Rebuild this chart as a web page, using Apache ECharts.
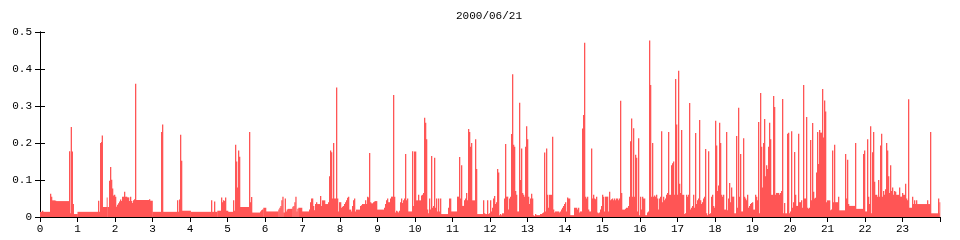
<!DOCTYPE html>
<html><head><meta charset="utf-8">
<script src="https://cdn.jsdelivr.net/npm/echarts@6/dist/echarts.min.js"></script>
<style>html,body{margin:0;padding:0;background:#fff}#c{width:960px;height:240px}</style>
</head><body><div id="c"></div>
<script>
const chartTitle = '2000/06/21';
const yTicks = [0, 0.1, 0.2, 0.3, 0.4, 0.5];
// sample start times (minutes after midnight) and values held until the next sample
const minutes = [
0,3.2,4.8,16,17.6,19.2,24,25.6,46.4,48,49.1,50.7,52.3,53.9,60,92.8,94.4,96,97.6,98.7,100.3,106.7,107.7,110.4,112,113.6,115.2,116.8,118.4,120,121.6,123.2,124.8,126.4,128,129.6,131.2,132.8,134.4,136,137.6,139.2,142.4,144,145.6,147.2,148.8,150.4,152,153.6,174.4,176,180,193.6,195.2,196.8,219.2,220.8,222.4,224,225.6,227.2,241,273.6,275.2,278.4,280,283.7,289.6,291.2,292.8,294.4,296,297.6,300.8,308.8,310.4,312,313.6,315.2,316.8,318.4,
320,334.4,336,337.6,339.2,352,353.6,355.2,357.3,361.6,381.3,382.9,384.5,386.1,387.7,389.3,391.5,393.1,394.7,396.3,402.7,403.7,405.3,406.9,408.5,410.1,411.7,413.3,419.2,430.4,432,433.6,435.2,436.8,438.4,440,441.6,443.2,448,449.6,451.2,456,460.8,462.4,464,465.6,467.2,468.8,470.4,473.6,475.2,476.8,478.4,481.6,483.2,484.8,486.4,488,489.6,491.2,492.8,494.4,497.6,499.2,500.8,502.4,504,505.6,512,513.6,515.2,520,521.6,523.2,524.8,526.4,528,529.6,532.8,534.4,536,539.2,550.4,552,553.6,555.2,556.8,560,561.6,564.8,566.4,568,569.6,571.2,572.8,574.4,576,577.6,579.2,580.8,582.4,584,585.6,587.2,588.8,595.2,596.8,598.4,601.6,604.8,606.4,609.6,611.2,612.8,614.4,616,617.6,619.2,620.8,622.4,624,625.6,627.2,628.8,630.4,632,633.6,635.2,636.8,638.4,640,641.6,652.8,654.4,657.6,667.2,670.4,672,673.6,675.2,678.4,680,681.6,683.2,684.8,686.4,688,689.6,691.2,696,697.6,699.2,
708.8,710.4,712,715.2,716.8,718.4,720,721.6,723.2,724.8,726.4,728,729.6,731.2,732.8,734.4,736,737.6,739.2,742.4,744,745.6,748.8,750.4,752,753.6,755.2,756.8,758.4,760,761.6,763.2,766.4,768,769.6,771.2,772.8,774.4,776,777.6,779.2,780.8,782.4,784,785.6,787.2,788.8,790.4,792,793.6,800,803.2,804.8,806.4,808,809.6,811.2,812.8,814.4,819.2,820.8,822.4,824,830.4,832,833.6,835.2,836.8,838.4,840,841.6,843.2,844.8,848,854.4,859.2,860.8,862.4,864,867.2,868.8,870.4,872,873.6,875.2,876.8,878.4,881.6,883.2,884.8,886.4,888,889.6,891.2,892.8,894.4,896,897.6,899.2,900.8,902.4,904,908.8,910.4,912,913.6,915.2,916.8,918.4,920,921.6,924.8,926.4,928,929.6,931.2,936,937.6,940.8,942.4,944,945.6,947.2,948.8,950.4,952,953.6,955.2,956.8,958.4,960,961.6,963.2,964.8,968,971.2,972.8,974.4,976,977.6,979.2,980.8,982.4,984,985.6,987.2,988.8,990.4,992,993.6,995.2,996.8,998.4,1000,1001.6,1003.2,1004.8,1006.4,1009.6,1011.2,1012.8,1014.4,1016,1017.6,1019.2,1020.8,1022.4,1024,1025.6,1027.2,1030.4,1032,1033.6,1035.2,1036.8,1038.4,1040,1041.6,1043.2,1044.8,1046.4,1048,1049.6,1051.2,1052.8,1054.4,1056,1057.6,1059.2,1060.8,1062.4,1064,1065.6,1067.2,1068.8,1070.4,1072,1073.6,1075.2,1076.8,1078.4,1080,1081.6,1083.2,1084.8,1086.4,
1088,1089.6,1091.2,1092.8,1094.4,1097.6,1099.2,1100.8,1102.4,1104,1105.6,1107.2,1110.4,1113.6,1115.2,1116.8,1118.4,1120,1121.6,1124.8,1126.4,1128,1129.6,1131.2,1132.8,1134.4,1136,1137.6,1139.2,1140.8,1144,1145.6,1147.2,1148.8,1150.4,1152,1153.6,1155.2,1156.8,1158.4,1160,1161.6,1163.2,1164.8,1166.4,1168,1169.6,1172.8,1174.4,1176,1177.6,1182.4,1184,1185.6,1187.2,1188.8,1190.4,1192,1195.2,1196.8,1198.4,1200,1201.6,1203.2,1204.8,1206.4,1208,1209.6,1212.8,1214.4,1217.6,1219.2,1220.8,1222.4,1225.6,1227.2,1228.8,1230.4,1232,1233.6,1235.2,1236.8,1238.4,1240,1241.6,1243.2,1244.8,1246.4,1248,1251.2,1252.8,1254.4,1256,1257.6,1259.2,1264,1265.6,1267.2,1268.8,1270.4,1272,1276.8,1278.4,1288,1289.6,1291.2,1292.8,1294.4,1304,1305.6,1316.8,1318.4,1320,1323.2,1324.8,1326.4,1328,1329.6,1331.2,1332.8,1334.4,1336,1339.2,1340.8,1342.4,1344,1345.6,1347.2,1348.8,1350.4,1352,1353.6,1355.2,1356.8,1358.4,1360,1361.6,1363.2,1364.8,1366.4,1368,1369.6,1374.4,1376,1379.2,1380.8,1384,1385.6,1387.2,1388.8,1390.4,1395.2,1396.8,1398.4,1400,1401.6,1403.2,1419.2,1420.8,1424,1425.6,1436.8,1438.4,1439,1440
];
const load = [
0.014,0.017,0.014,0.063,0.055,0.045,0.044,0.043,0.178,0.01,0.243,0.177,0.035,0.008,0.014,0.044,0.014,0.2,0.203,0.22,0.027,0.053,0.027,0.098,0.135,0.101,0.077,0.058,0.06,0.055,0.028,0.033,0.037,0.042,0.047,0.043,0.055,0.055,0.068,0.055,0.055,0.053,0.043,0.055,0.043,0.038,0.045,0.048,0.36,0.046,0.048,0.044,0.014,0.23,0.25,0.014,0.045,0.014,0.047,0.222,0.152,0.017,0.014,0.045,0.014,0.042,0.014,0.017,0.053,0.04,0.045,0.043,0.053,0.017,0.014,0.045,0.017,0.195,0.15,0.08,0.18,0.163,
0.027,0.23,0.04,0.054,0.012,0.015,0.018,0.02,0.025,0.015,0.02,0.025,0.03,0.045,0.055,0.012,0.05,0.015,0.02,0.022,0.022,0.028,0.03,0.04,0.055,0.015,0.022,0.025,0.015,0.02,0.04,0.05,0.05,0.03,0.018,0.035,0.04,0.035,0.057,0.03,0.045,0.035,0.04,0.11,0.18,0.175,0.05,0.2,0.05,0.35,0.05,0.015,0.04,0.025,0.028,0.03,0.035,0.04,0.045,0.052,0.055,0.02,0.015,0.03,0.045,0.05,0.015,0.02,0.03,0.032,0.035,0.045,0.035,0.055,0.053,0.173,0.04,0.037,0.04,0.042,0.043,0.02,0.025,0.035,0.045,0.05,0.04,0.05,0.055,0.33,0.055,0.012,0.017,0.015,0.012,0.017,0.04,0.05,0.038,0.045,0.05,0.17,0.045,0.05,0.015,0.178,0.03,0.177,0.045,0.06,0.045,0.058,0.06,0.065,0.268,0.255,0.21,0.02,0.01,0.05,0.02,0.165,0.025,0.03,0.16,0.025,0.05,0.015,0.05,0.015,0.05,0.008,0.025,0.05,0.015,0.055,0.162,0.05,0.14,0.03,0.045,0.05,0.065,0.045,0.238,0.23,0.19,0.2,0.045,0.21,0.13,0.008,
0.045,0.01,0.008,0.045,0.008,0.01,0.045,0.015,0.025,0.05,0.057,0.035,0.04,0.13,0.12,0.005,0.008,0.005,0.01,0.05,0.197,0.055,0.02,0.05,0.055,0.224,0.386,0.195,0.19,0.07,0.06,0.015,0.309,0.1,0.185,0.065,0.06,0.055,0.19,0.245,0.21,0.055,0.035,0.05,0.063,0.05,0.005,0.003,0.008,0.005,0.008,0.01,0.012,0.174,0.015,0.185,0.06,0.025,0.06,0.217,0.02,0.012,0.015,0.012,0.015,0.02,0.025,0.03,0.035,0.04,0.015,0.053,0.05,0.005,0.025,0.02,0.025,0.012,0.015,0.239,0.276,0.471,0.055,0.05,0.055,0.02,0.015,0.185,0.05,0.06,0.05,0.048,0.055,0.012,0.01,0.012,0.02,0.03,0.06,0.055,0.015,0.055,0.015,0.068,0.045,0.048,0.05,0.045,0.05,0.045,0.05,0.045,0.05,0.314,0.065,0.02,0.022,0.025,0.03,0.055,0.205,0.266,0.055,0.24,0.055,0.168,0.16,0.015,0.213,0.005,0.055,0.02,0.055,0.05,0.005,0.012,0.015,0.477,0.357,0.055,0.2,0.055,0.058,0.055,0.06,0.05,0.02,0.05,0.055,0.232,0.04,0.055,0.045,0.05,0.06,0.065,0.23,0.06,0.14,0.145,0.15,0.06,0.373,0.25,0.06,0.395,0.09,0.065,0.235,0.06,0.008,0.01,0.06,0.055,0.06,0.308,0.02,0.025,0.03,0.06,0.025,0.227,0.035,0.045,0.05,0.262,0.045,0.035,0.04,0.05,0.055,0.184,0.01,0.005,0.178,0.008,0.01,0.055,0.06,0.03,0.025,0.26,0.193,0.07,0.085,0.255,
0.2,0.06,0.055,0.06,0.02,0.23,0.018,0.05,0.092,0.04,0.08,0.055,0.01,0.219,0.025,0.295,0.055,0.17,0.015,0.213,0.055,0.05,0.045,0.06,0.025,0.03,0.035,0.038,0.04,0.02,0.06,0.055,0.045,0.257,0.01,0.335,0.19,0.08,0.2,0.265,0.11,0.14,0.13,0.19,0.255,0.21,0.06,0.327,0.297,0.06,0.065,0.06,0.065,0.07,0.319,0.01,0.038,0.01,0.225,0.228,0.01,0.015,0.232,0.025,0.04,0.176,0.06,0.03,0.225,0.04,0.045,0.025,0.357,0.05,0.27,0.025,0.022,0.025,0.208,0.045,0.254,0.068,0.05,0.052,0.12,0.23,0.143,0.235,0.228,0.346,0.215,0.315,0.285,0.04,0.045,0.018,0.02,0.18,0.04,0.195,0.04,0.055,0.018,0.17,0.05,0.155,0.035,0.03,0.2,0.022,0.17,0.18,0.015,0.21,0.055,0.035,0.245,0.01,0.175,0.23,0.095,0.06,0.055,0.1,0.055,0.193,0.225,0.055,0.07,0.06,0.075,0.2,0.18,0.11,0.065,0.14,0.07,0.08,0.06,0.07,0.068,0.06,0.08,0.055,0.065,0.06,0.09,0.05,0.045,0.318,0.025,0.055,0.035,0.045,0.035,0.045,0.035,0.045,0.035,0.23,0.01,0.05,0.01,0.04,0.04
];

const font = 'Liberation Mono';
const barColor = '#ff5555';
// each sample: [start minute, end minute (next sample), value]
const spans = [];
for (let i = 0; i < minutes.length - 1; i++) spans.push([minutes[i], minutes[i + 1], load[i]]);

const chart = echarts.init(document.getElementById('c'), null, {renderer: 'canvas'});
chart.setOption({
  animation: false,
  backgroundColor: '#fff',
  title: {
    text: chartTitle, left: 451, top: 6,
    textStyle: {fontFamily: font, fontSize: 11, fontWeight: 'normal', color: '#000'}
  },
  grid: {left: 40, right: 20, top: 32, bottom: 23, containLabel: false},
  xAxis: [
    {
      type: 'value', min: 0, max: 1440, interval: 60, position: 'bottom',
      axisLine: {show: false}, axisTick: {show: false}, splitLine: {show: false},
      axisLabel: {
        margin: 7, color: '#000', fontFamily: font, fontSize: 11, showMaxLabel: false,
        formatter: v => String(v / 60)
      }
    },
    {
      type: 'value', min: 0, max: 1440, interval: 60, position: 'top',
      axisLine: {show: true, lineStyle: {color: '#000', width: 1}},
      axisTick: {show: true, inside: true, length: 5, lineStyle: {color: '#000'}},
      axisLabel: {show: false}, splitLine: {show: false}
    }
  ],
  yAxis: [
    {
      type: 'value', min: yTicks[0], max: yTicks[yTicks.length - 1], interval: 0.1, position: 'left',
      axisLine: {show: true, lineStyle: {color: '#000', width: 1}},
      axisTick: {show: true, inside: true, length: 5, lineStyle: {color: '#000'}},
      axisLabel: {margin: 8, color: '#000', fontFamily: font, fontSize: 11},
      splitLine: {show: false}
    },
    {
      type: 'value', min: yTicks[0], max: yTicks[yTicks.length - 1], interval: 0.1, position: 'right',
      axisLine: {show: true, lineStyle: {color: '#000', width: 1}},
      axisTick: {show: true, inside: true, length: 5, lineStyle: {color: '#000'}},
      axisLabel: {show: false}, splitLine: {show: false}
    }
  ],
  series: [{
    type: 'custom', xAxisIndex: 0, yAxisIndex: 0, data: spans, silent: true,
    encode: {x: [0, 1], y: 2},
    renderItem: function (params, api) {
      const top = api.coord([api.value(0), api.value(2)]);
      const base = api.coord([api.value(1), 0]);
      return {
        type: 'rect',
        shape: {x: top[0], y: top[1], width: base[0] - top[0] + 0.3, height: base[1] - top[1]},
        style: {fill: barColor}
      };
    }
  }]
});
</script>
</body></html>
